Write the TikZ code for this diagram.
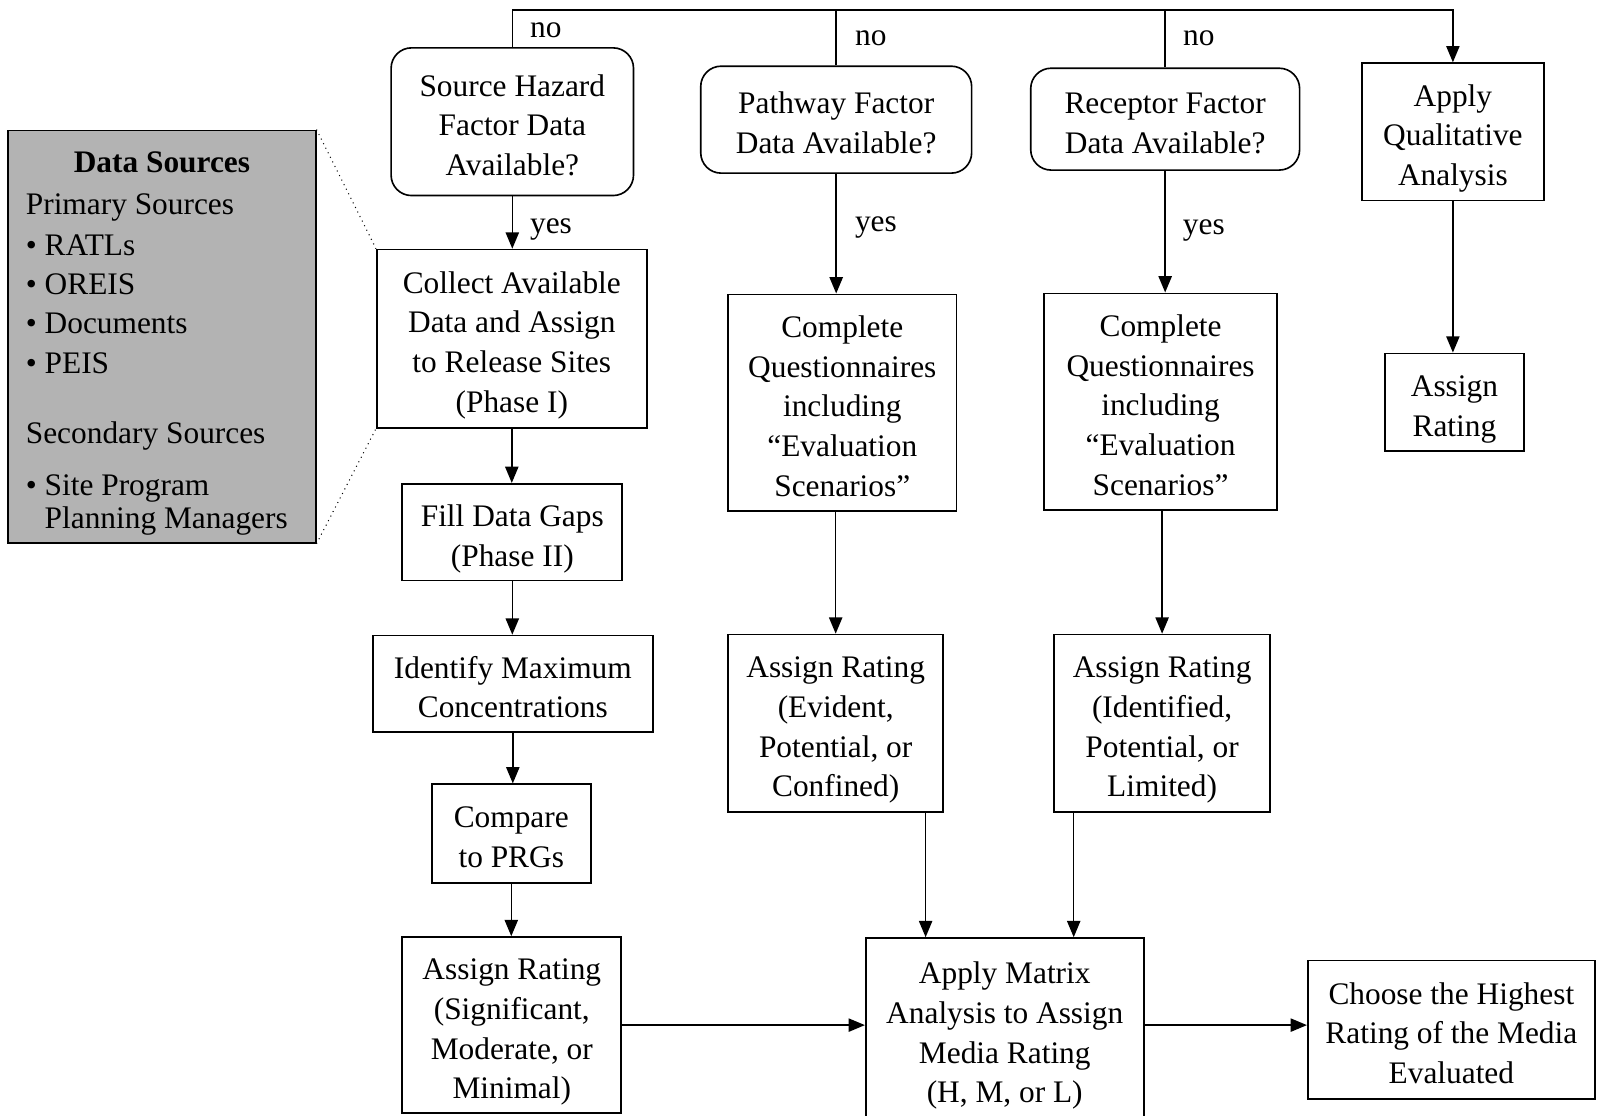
\documentclass[tikz,border=0pt]{standalone}
\usepackage{fontspec}
\setmainfont{Liberation Serif}
\usetikzlibrary{arrows.meta,calc}
\definecolor{dsgray}{RGB}{179,179,179}
\newcommand{\bxt}[1]{\raisebox{-3pt}[\height][\depth]{\begin{tabular}{@{}c@{}}#1\end{tabular}}}
\begin{document}
\begin{tikzpicture}[x=0.5pt,y=-0.5pt,
  every node/.style={font=\fontsize{15.4}{19.5}\selectfont},
  box/.style={draw,line width=0.8pt,inner sep=0pt},
  rbox/.style={box,rounded corners=10pt},
  lbl/.style={inner sep=0pt},
  dst/.style={inner sep=0pt,anchor=west,text height=11pt,text depth=3.5pt},
  conn/.style={line width=0.75pt},
  arr/.style={conn,-{Triangle[length=8pt,width=6.5pt]}},
  dots/.style={line width=0.5pt,dotted}]
\useasboundingbox (0,0) rectangle (1568,1095);

% decision boxes
\node[rbox,minimum width=119pt,minimum height=72.5pt] (sh) at (503,119.5) {\bxt{Source Hazard\\Factor Data\\Available?}};
\node[rbox,minimum width=133pt,minimum height=52.5pt] (pw) at (821,117.5) {\bxt{Pathway Factor\\Data Available?}};
\node[rbox,minimum width=132pt,minimum height=50pt] (rc) at (1144,117) {\bxt{Receptor Factor\\Data Available?}};
\node[box,minimum width=89.5pt,minimum height=67.5pt] (aq) at (1426.5,129.5) {\bxt{Apply\\Qualitative\\Analysis}};
\node[box,minimum width=68pt,minimum height=48pt] (ar) at (1428,395) {\bxt{Assign\\Rating}};

% left column
\node[box,minimum width=132.5pt,minimum height=87.5pt] (col) at (502.5,332.5) {\bxt{Collect Available\\Data and Assign\\to Release Sites\\(Phase I)}};
\node[box,minimum width=108pt,minimum height=47.5pt] (fill) at (503,522.5) {\bxt{Fill Data Gaps\\(Phase II)}};
\node[box,minimum width=137.5pt,minimum height=47.5pt] (idm) at (503.5,671.5) {\bxt{Identify Maximum\\Concentrations}};
\node[box,minimum width=78pt,minimum height=48.5pt] (cmp) at (502,818.5) {\bxt{Compare\\to PRGs}};
\node[box,minimum width=107.5pt,minimum height=86.5pt] (sig) at (502.5,1006.5) {\bxt{Assign Rating\\(Significant,\\Moderate, or\\Minimal)}};

% middle columns
\node[box,minimum width=112pt,minimum height=106.5pt] (cq1) at (827,395.5) {\bxt{Complete\\Questionnaires\\including\\“Evaluation\\Scenarios”}};
\node[box,minimum width=114.5pt,minimum height=106.5pt] (cq2) at (1139.5,394.5) {\bxt{Complete\\Questionnaires\\including\\“Evaluation\\Scenarios”}};
\node[box,minimum width=105.5pt,minimum height=87pt] (ae) at (820.5,710) {\bxt{Assign Rating\\(Evident,\\Potential, or\\Confined)}};
\node[box,minimum width=106pt,minimum height=87pt] (ai) at (1141,710) {\bxt{Assign Rating\\(Identified,\\Potential, or\\Limited)}};
\node[box,minimum width=136.5pt,minimum height=89.5pt] (mat) at (986.5,1010.5) {\bxt{Apply Matrix\\Analysis to Assign\\Media Rating\\(H, M, or L)}};
\node[box,minimum width=141pt,minimum height=68pt] (ch) at (1425,1011) {\bxt{Choose the Highest\\Rating of the Media\\Evaluated}};

% data sources
\node[draw,line width=0.8pt,fill=dsgray,minimum width=151pt,minimum height=202.5pt,inner sep=0pt] (ds) at (159,330.5) {};
\node[lbl] (dsT) at (159,159) {\textbf{Data Sources}};
\node[dst] (dsP) at (25,203) {Primary Sources};
\node[dst] (dsA) at (25,243) {\textbullet\ RATLs};
\node[dst] (dsB) at (25,282) {\textbullet\ OREIS};
\node[dst] (dsC) at (25,320) {\textbullet\ Documents};
\node[dst] (dsD) at (25,359) {\textbullet\ PEIS};
\node[dst] (dsS) at (25,428) {Secondary Sources};
\node[dst] (dsE) at (25,479) {\textbullet\ Site Program};
\node[dst] (dsF) at (25,511) {\hphantom{\textbullet\ }Planning Managers};
\draw[dots] (ds.north east) -- (col.north west);
\draw[dots] (ds.south east) -- (col.south west);

% top "no" line
\coordinate (t1) at (sh.north |- 0,10);
\coordinate (t4) at (aq.north |- 0,10);
\draw[arr] (sh.north) -- (t1) -- (t4) -- (aq.north);
\draw[conn] (pw.north) -- (pw.north |- t1);
\draw[conn] (rc.north) -- (rc.north |- t1);
\node[lbl] (no1) at (536,30) {no};
\node[lbl] (no2) at (855,38) {no};
\node[lbl] (no3) at (1177,38) {no};

% yes arrows
\draw[arr] (sh.south) -- (sh.south |- col.north);
\draw[arr] (pw.south) -- (pw.south |- cq1.north);
\draw[arr] (rc.south) -- (rc.south |- cq2.north);
\node[lbl] (yes1) at (541,225) {yes};
\node[lbl] (yes2) at (860,223) {yes};
\node[lbl] (yes3) at (1182,226) {yes};

% left chain
\draw[arr] (col.south) -- (col.south |- fill.north);
\draw[arr] (fill.south) -- (fill.south |- idm.north);
\draw[arr] (idm.south) -- (idm.south |- cmp.north);
\draw[arr] (cmp.south) -- (cmp.south |- sig.north);

% middle chains
\draw[arr] (ae.north |- cq1.south) -- (ae.north);
\draw[arr] (ai.north |- cq2.south) -- (ai.north);
\draw[arr] ([xshift=-9pt]ae.south east) -- ([xshift=-9pt]ae.south east |- mat.north);
\draw[arr] ([xshift=10pt]ai.south west) -- ([xshift=10pt]ai.south west |- mat.north);

% right
\draw[arr] (aq.south) -- (aq.south |- ar.north);
\draw[arr] (sig.east) -- (sig.east -| mat.west);
\draw[arr] (mat.east |- sig.east) -- (sig.east -| ch.west);
\end{tikzpicture}
\end{document}
